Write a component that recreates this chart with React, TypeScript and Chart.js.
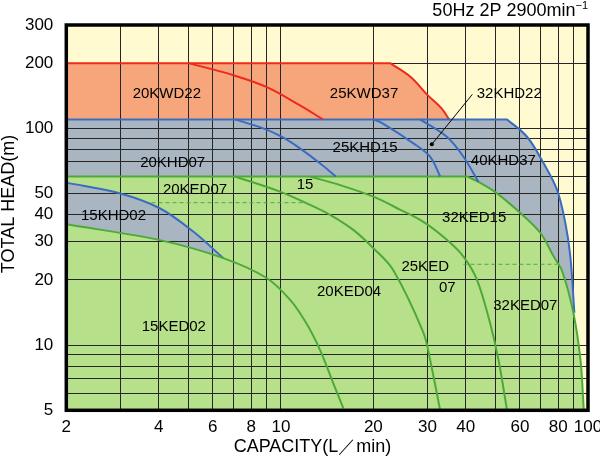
import React, { useEffect, useRef } from 'react';
import { Chart, registerables } from 'chart.js';

Chart.register(...registerables);

type P = [number, number];

// axes
const xGridValues = [2, 3, 4, 5, 6, 7, 8, 9, 10, 20, 30, 40, 50, 60, 70, 80, 90, 100];
const xTickLabels = [2, 4, 6, 8, 10, 20, 30, 40, 60, 80, 100];
const yGridValues = [5, 6, 7, 8, 9, 10, 20, 30, 40, 50, 60, 70, 80, 90, 100, 200, 300];
const yTickLabels = [5, 10, 20, 30, 40, 50, 100, 200, 300];

// KWD (red) group
const kwdTop: P[] = [[2, 200], [22.7, 200]];
const kwd37: P[] = [[22.7, 200], [26.4, 173], [30.1, 142], [33.3, 124], [35.3, 110]];
const kwd22: P[] = [[5.0, 200], [7.0, 176], [9.0, 155], [11.5, 128], [13.7, 110]];

// KHD (blue) group
const khdTop: P[] = [[2, 110], [54.5, 110]];
const khd37: P[] = [[54.5, 110], [63.3, 91.5], [71.7, 69], [79.3, 52], [84.4, 36.5], [87.6, 25.6], [90.3, 14.1]];
const khd07: P[] = [[7.08, 110], [8.76, 100], [10.05, 91.5], [11.53, 80.9], [13.4, 69], [15.1, 60]];
const khd15: P[] = [[20.0, 110], [21.3, 106], [27.0, 85.3], [30.6, 74], [33.0, 60]];
const khd22: P[] = [[28.4, 110], [34.7, 91.5], [39.3, 74], [44.0, 56.6]];
const khd02: P[] = [[2, 56.2], [2.98, 50.2], [4.03, 42.8], [5.18, 33.4], [6.49, 25.2]];

// KED (green) group
const kedTop: P[] = [[2, 60], [40.3, 60]];
const ked15: P[] = [[40.3, 60], [44.0, 56.6], [50.3, 50.4], [60.2, 40.7], [70.0, 32.9], [77.1, 25.8], [82.5, 21.8], [89.6, 14.1], [94.5, 8.55], [96.9, 5]];
const ked07: P[] = [[7.08, 60], [9.93, 51.1], [12.13, 45.1], [14.46, 39.9], [17.2, 34.0], [20.0, 28.0], [23.2, 22.2], [29.1, 11.4], [30.6, 8.55], [33.0, 5]];
const kedMid: P[] = [[12.43, 60], [15.6, 54.7], [20.0, 48.4], [24.4, 42.2], [29.1, 37.0], [34.7, 30.6], [39.3, 25.6], [43.5, 20.0], [48.0, 12.6], [51.1, 8.55], [54.5, 5]];
const ked02: P[] = [[2, 36.1], [4.03, 30.5], [6.49, 25.2], [8.98, 20.4], [10.7, 16.2], [12.1, 12.6], [13.4, 9.5], [14.8, 6.68], [15.97, 5.1]];

// dashed guide lines
const dash20ked07: P[] = [[3.79, 45.4], [12.13, 45.4]];
const dash25ked07: P[] = [[39.3, 23.6], [79.3, 23.6]];
const leader32khd22: P[] = [[31.0, 84.4], [42.0, 143.5]];
const background: P[] = [[2, 300], [100, 300]];

// labels: text with (capacity, head) anchor
const labelTexts = ['20KWD22', '25KWD37', '32KHD22', '20KHD07', '25KHD15', '40KHD37', '20KED07', '15', '15KHD02', '32KED15', '25KED', '07', '20KED04', '32KED07', '15KED02'];
const labelX = [4.25, 18.65, 55.4, 4.44, 18.8, 53.0, 5.25, 11.98, 2.85, 42.6, 29.5, 34.8, 16.67, 62.5, 4.48];
const labelY = [145, 145, 145, 69.2, 81.2, 70.7, 52.0, 54.8, 39.4, 38.6, 22.9, 18.4, 17.6, 15.2, 12.1];

const RED = '#EE2A1A';
const BLUE = '#3A6CC0';
const GREEN = '#4DAA38';
const C_YELLOW = '#FFFAD0';
const C_ORANGE = '#F6A67A';
const C_GRAY = '#AAB5C2';
const C_GREEN = '#B7E08A';
const FONT = '"Liberation Sans", Arial, sans-serif';

const pts = (a: P[]) => a.map(([x, y]) => ({ x, y }));

export default function App() {
  const ref = useRef<HTMLCanvasElement | null>(null);
  useEffect(() => {
    if (!ref.current) return;
    const line = (data: P[], color: string, extra: any = {}) => ({
      data: pts(data),
      borderColor: color,
      borderWidth: 2,
      pointRadius: 0,
      tension: 0.35,
      fill: false,
      order: 5,
      ...extra,
    });
    const datasets: any[] = [
      { data: pts(background), borderWidth: 0, pointRadius: 0, fill: 'start', backgroundColor: C_YELLOW, order: 100 },
      line([...kwdTop, ...kwd37], RED, { fill: 'start', backgroundColor: C_ORANGE, order: 90 }),
      line([...khdTop, ...khd37], BLUE, { fill: 'start', backgroundColor: C_GRAY, order: 80 }),
      line([...kedTop, ...ked15], GREEN, { fill: 'start', backgroundColor: C_GREEN, order: 70 }),
      line(khd02, BLUE, { fill: 'start', backgroundColor: C_GRAY, order: 60 }),
      line(ked02, GREEN, { fill: 'start', backgroundColor: C_GREEN, order: 50 }),
      line(kwd22, RED),
      line(khd07, BLUE),
      line(khd15, BLUE),
      line(khd22, BLUE),
      line(ked07, GREEN),
      line(kedMid, GREEN),
      line(dash20ked07, GREEN, { borderWidth: 1, borderDash: [4, 3], tension: 0 }),
      line(dash25ked07, GREEN, { borderWidth: 1, borderDash: [4, 3], tension: 0 }),
      line(leader32khd22, '#000', { borderWidth: 1, tension: 0, pointRadius: [2, 0], pointBackgroundColor: '#000', pointBorderWidth: 0, order: 1 }),
    ];

    const decor = {
      id: 'decor',
      afterDatasetsDraw(chart: any) {
        const { ctx, scales, chartArea } = chart;
        const xs = scales.x, ys = scales.y;
        ctx.save();
        ctx.fillStyle = '#000';
        ctx.font = `15px ${FONT}`;
        ctx.textAlign = 'center';
        ctx.textBaseline = 'middle';
        labelTexts.forEach((t, i) => {
          ctx.fillText(t, xs.getPixelForValue(labelX[i]), ys.getPixelForValue(labelY[i]));
        });
        // frame
        ctx.strokeStyle = '#000';
        ctx.lineWidth = 3.5;
        ctx.strokeRect(chartArea.left, chartArea.top, chartArea.right - chartArea.left, chartArea.bottom - chartArea.top);
        // axis titles
        ctx.font = `18px ${FONT}`;
        ctx.textAlign = 'center';
        ctx.textBaseline = 'middle';
        ctx.fillText('CAPACITY(L／min)', 312.5, 447);
        ctx.save();
        ctx.translate(9, 204);
        ctx.rotate(-Math.PI / 2);
        ctx.fillText('TOTAL HEAD(m)', 0, 0);
        ctx.restore();
        // top-right title
        ctx.textAlign = 'right';
        ctx.textBaseline = 'alphabetic';
        ctx.font = `11px ${FONT}`;
        const sup = '−1';
        const supW = ctx.measureText(sup).width;
        ctx.fillText(sup, 588, 9);
        ctx.font = `18px ${FONT}`;
        ctx.fillText('50Hz 2P 2900min', 588 - supW, 16);
        ctx.restore();
      },
    };

    const tickFont = { family: FONT, size: 17 };
    const chart = new Chart(ref.current, {
      type: 'line',
      data: { datasets },
      options: {
        animation: false,
        responsive: false,
        events: [],
        layout: { padding: { top: 25, right: 12, left: 0, bottom: 0 } },
        plugins: {
          legend: { display: false },
          tooltip: { enabled: false },
          filler: { drawTime: 'beforeDraw' } as any,
        },
        scales: {
          x: {
            type: 'logarithmic',
            min: 2,
            max: 100,
            afterBuildTicks: (s: any) => { s.ticks = xGridValues.map((v) => ({ value: v })); },
            afterFit: (s: any) => { s.height = 46.7; s.paddingLeft = 0; s.paddingRight = 0; },
            ticks: {
              autoSkip: false, maxRotation: 0, minRotation: 0, padding: 7, color: '#000', font: tickFont,
              callback: (v: any) => (xTickLabels.includes(Number(v)) ? String(v) : ''),
            },
            grid: { color: '#262626', lineWidth: 1, drawTicks: false },
            border: { display: false },
          },
          y: {
            type: 'logarithmic',
            min: 5,
            max: 300,
            afterBuildTicks: (s: any) => { s.ticks = yGridValues.map((v) => ({ value: v })); },
            afterFit: (s: any) => { s.width = 66.3; s.paddingTop = 0; s.paddingBottom = 0; },
            ticks: {
              autoSkip: false, padding: 13, color: '#000', font: tickFont,
              callback: (v: any) => (yTickLabels.includes(Number(v)) ? String(v) : ''),
            },
            grid: { color: '#262626', lineWidth: 1, drawTicks: false },
            border: { display: false },
          },
        },
      },
      plugins: [decor],
    });
    return () => chart.destroy();
  }, []);

  return (
    <div style={{ position: 'absolute', left: 0, top: 0, width: 600, height: 457, background: '#fff' }}>
      <canvas ref={ref} width={600} height={457} style={{ display: 'block' }} />
    </div>
  );
}
